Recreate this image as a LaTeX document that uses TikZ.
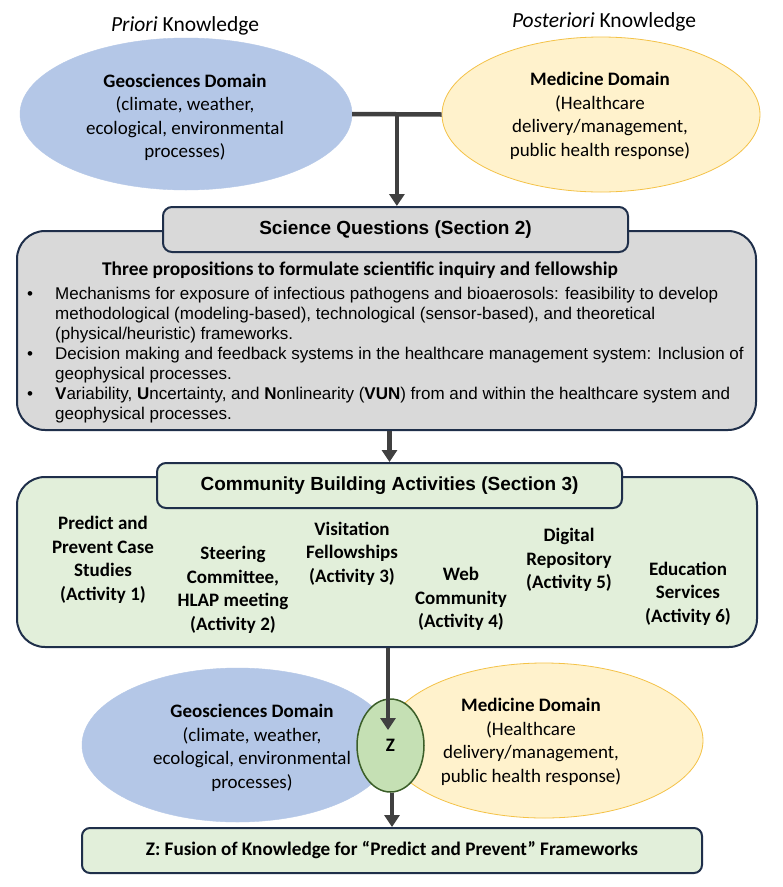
\documentclass[tikz,border=0pt]{standalone}
\usepackage{fontspec}
\setmainfont{Carlito}
\newfontfamily\arialfont{Liberation Sans}
\usetikzlibrary{shapes.geometric,arrows.meta,calc}
\definecolor{geoblue}{HTML}{B4C7E7}
\definecolor{medyellow}{HTML}{FFF2CC}
\definecolor{medborder}{HTML}{F4C247}
\definecolor{sqgray}{HTML}{D9D9D9}
\definecolor{cbagreen}{HTML}{E2EFDA}
\definecolor{navy}{HTML}{1F2F4A}
\definecolor{zgreen}{HTML}{C5E0B4}
\definecolor{zborder}{HTML}{3B5E28}
\definecolor{arrowgray}{HTML}{404040}
\begin{document}
\begin{tikzpicture}[x=1pt,y=1pt,
  geoell/.style={ellipse, fill=geoblue, draw=geoblue, inner sep=0pt},
  medell/.style={ellipse, fill=medyellow, draw=medborder, line width=0.8pt, inner sep=0pt},
  elltext/.style={align=center, inner sep=0pt, font=\fontsize{19}{23.5}\selectfont},
  acttext/.style={align=center, inner sep=0pt, font=\fontsize{19}{23.5}\selectfont\bfseries},
  bigbox/.style={draw=navy, line width=2pt, rounded corners=28pt, inner sep=0pt},
  titlebox/.style={draw=navy, line width=2pt, rounded corners=9pt, inner sep=0pt,
    font=\arialfont\bfseries\fontsize{19}{23}\selectfont},
  conn/.style={draw=arrowgray, line width=4.5pt},
  arr/.style={conn, -{Triangle[width=15pt,length=12pt]}},
]
\path[use as bounding box, fill=white] (0,0) rectangle (783,-887);

% headings
\node[inner sep=0pt, font=\fontsize{21.5}{24}\selectfont] (priori) at (185,-26) {\textit{Priori} Knowledge};
\node[inner sep=0pt, font=\fontsize{21.5}{24}\selectfont] (posteriori) at (604,-22) {\textit{Posteriori} Knowledge};

% top ellipses
\node[geoell, minimum width=332pt, minimum height=152pt] (geo1) at (186,-114) {};
\node[medell, minimum width=318pt, minimum height=155pt] (med1) at (601,-114.5) {};
\node[elltext] (geo1text) at (185,-117.5) {\textbf{Geosciences Domain}\\(climate, weather,\\ecological, environmental\\processes)};
\node[elltext] (med1text) at (600,-116) {\textbf{Medicine Domain}\\(Healthcare\\delivery/management,\\public health response)};

% science questions
\node[bigbox, fill=sqgray, minimum width=739pt, minimum height=199pt] (sqbody) at (386.5,-330.5) {};
\node[titlebox, fill=sqgray, minimum width=465pt, minimum height=45pt] (sqtitle) at (395.5,-229.5) {Science Questions (Section 2)};
\node[inner sep=0pt, font=\fontsize{19.4}{23}\selectfont\bfseries] (sqhead) at (360,-270) {Three propositions to formulate scientific inquiry and fellowship};
\node[anchor=north west, inner sep=0pt, font=\arialfont\fontsize{17}{20}\selectfont] (bullets) at (27,-285) {%
\begin{tabular}{@{}p{28pt}@{}l@{}}
\textbullet & Mechanisms for exposure of infectious pathogens and bioaerosols: feasibility to develop\\
 & methodological (modeling-based), technological (sensor-based), and theoretical\\
 & (physical/heuristic) frameworks.\\
\textbullet & Decision making and feedback systems in the healthcare management system: Inclusion of\\
 & geophysical processes.\\
\textbullet & \textbf{V}ariability, \textbf{U}ncertainty, and \textbf{N}onlinearity (\textbf{VUN}) from and within the healthcare system and\\
 & geophysical processes.
\end{tabular}};

% community building
\node[bigbox, fill=cbagreen, minimum width=740pt, minimum height=170pt] (cbabody) at (387,-562) {};
\node[titlebox, fill=cbagreen, minimum width=465pt, minimum height=45pt] (cbatitle) at (389.5,-485.5) {Community Building Activities (Section 3)};
\node[acttext] (act1) at (103,-560) {Predict and\\Prevent Case\\Studies\\(Activity 1)};
\node[acttext] (act2) at (233,-590) {Steering\\Committee,\\HLAP meeting\\(Activity 2)};
\node[acttext] (act3) at (352,-553.5) {Visitation\\Fellowships\\(Activity 3)};
\node[acttext] (act4) at (461,-599) {Web\\Community\\(Activity 4)};
\node[acttext] (act5) at (569,-560) {Digital\\Repository\\(Activity 5)};
\node[acttext] (act6) at (688,-593.5) {Education\\Services\\(Activity 6)};

% bottom ellipses
\node[geoell, minimum width=311pt, minimum height=154pt] (geo2) at (237.5,-745) {};
\node[medell, minimum width=318pt, minimum height=155pt] (med2) at (544,-740.5) {};
\node[ellipse, fill=zgreen, draw=zborder, line width=1.5pt, inner sep=0pt, minimum width=67pt, minimum height=93pt, font=\fontsize{19}{23}\selectfont\bfseries] (zell) at (390.5,-745.5) {Z};
\node[elltext] (geo2text) at (252,-748) {\textbf{Geosciences Domain}\\(climate, weather,\\ecological, environmental\\processes)};
\node[elltext] (med2text) at (531,-742) {\textbf{Medicine Domain}\\(Healthcare\\delivery/management,\\public health response)};

% fusion box
\node[draw=navy, line width=2pt, rounded corners=8pt, fill=cbagreen, inner sep=0pt, minimum width=620pt, minimum height=45pt, font=\fontsize{19.2}{23}\selectfont\bfseries] (fusion) at (392,-850.5) {Z: Fusion of Knowledge for “Predict and Prevent” Frameworks};

% connectors
\coordinate (junc) at ($(geo1.east)!0.5!(med1.west)$);
\draw[conn] (geo1.east) -- (med1.west);
\draw[arr] (junc) -- (junc |- sqtitle.north);
\draw[arr] (cbatitle.north |- sqbody.south) -- (cbatitle.north);
\coordinate (ztip) at (388,-730);
\draw[arr] (ztip |- cbabody.south) -- (ztip);
\coordinate (zout) at ($(zell.south)+(1.5,0)$);
\draw[arr] (zout) -- (zout |- fusion.north);
\end{tikzpicture}
\end{document}
